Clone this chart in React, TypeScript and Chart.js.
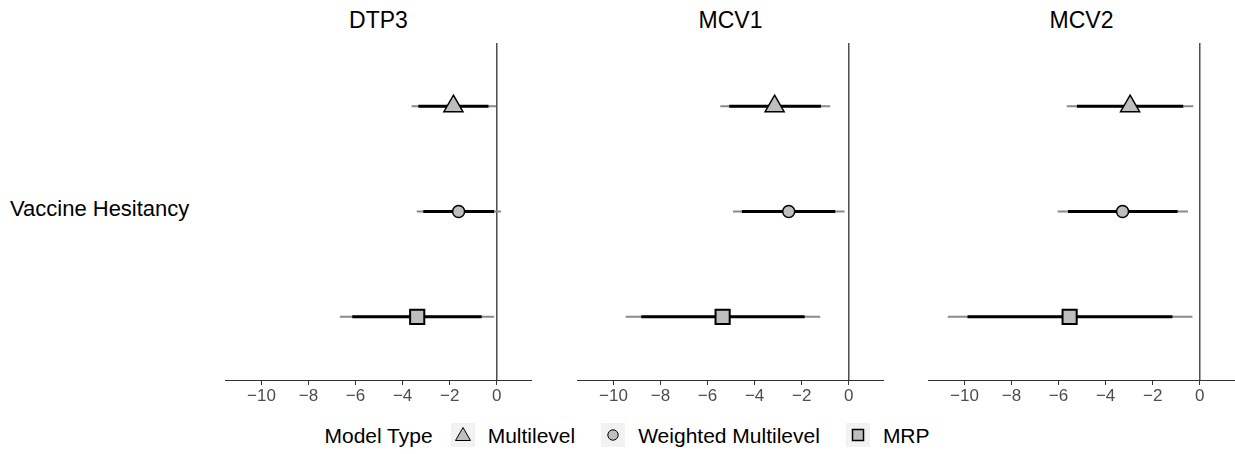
import React, { useEffect, useRef } from 'react';
import { Chart, registerables } from 'chart.js';

Chart.register(...registerables);

// ---------- data ----------
const panelTitles = ['DTP3', 'MCV1', 'MCV2'];
const modelTypes = ['Multilevel', 'Weighted Multilevel', 'MRP'];
const rowPositions = [1, 2, 3];
const xTickValues = [-10, -8, -6, -4, -2, 0];
const yCategory = 'Vaccine Hesitancy';
const legendTitle = 'Model Type';

const dtp3Est = [-1.84, -1.62, -3.38];
const dtp3Lo80 = [-3.33, -3.12, -6.14];
const dtp3Hi80 = [-0.35, -0.11, -0.64];
const dtp3Lo95 = [-3.62, -3.4, -6.67];
const dtp3Hi95 = [-0.03, 0.18, -0.11];

const mcv1Est = [-3.15, -2.55, -5.36];
const mcv1Lo80 = [-5.08, -4.54, -8.82];
const mcv1Hi80 = [-1.18, -0.57, -1.87];
const mcv1Lo95 = [-5.46, -4.92, -9.48];
const mcv1Hi95 = [-0.79, -0.18, -1.21];

const mcv2Est = [-2.96, -3.28, -5.53];
const mcv2Lo80 = [-5.22, -5.6, -9.87];
const mcv2Hi80 = [-0.7, -0.94, -1.16];
const mcv2Lo95 = [-5.65, -6.04, -10.71];
const mcv2Hi95 = [-0.27, -0.5, -0.31];

const xMin = -11.55;
const xMax = 1.5;
const zeroValue = 0;

// ---------- styles ----------
const FONT = '"Liberation Sans", Arial, Helvetica, sans-serif';
const markerStyles = [
  { pointStyle: 'triangle', radius: 11, borderWidth: 1.5 },
  { pointStyle: 'circle', radius: 6, borderWidth: 1.5 },
  { pointStyle: 'rect', radius: 10, borderWidth: 2 },
];
const MARKER_FILL = '#bebebe';
const PANEL_LEFTS = [225, 577, 928];
const PANEL_W = 307;
const PANEL_TOP = 43;
const AREA_H = 337;
const AXIS_H = 40;

const panels = [
  { title: panelTitles[0], est: dtp3Est, lo80: dtp3Lo80, hi80: dtp3Hi80, lo95: dtp3Lo95, hi95: dtp3Hi95 },
  { title: panelTitles[1], est: mcv1Est, lo80: mcv1Lo80, hi80: mcv1Hi80, lo95: mcv1Lo95, hi95: mcv1Hi95 },
  { title: panelTitles[2], est: mcv2Est, lo80: mcv2Lo80, hi80: mcv2Hi80, lo95: mcv2Lo95, hi95: mcv2Hi95 },
];

const fmtTick = (v: number) => (v < 0 ? '\u2212' + Math.abs(v) : String(v));

function Panel({ idx }: { idx: number }) {
  const ref = useRef<HTMLCanvasElement>(null);
  useEffect(() => {
    const p = panels[idx];
    const datasets: any[] = [];
    datasets.push({
      data: [{ x: zeroValue, y: 0.4 }, { x: zeroValue, y: 3.6 }],
      showLine: true, borderColor: '#4d4d4d', borderWidth: 1, pointRadius: 0, order: 4,
    });
    rowPositions.forEach((y, i) => {
      datasets.push({
        data: [{ x: p.lo95[i], y }, { x: p.hi95[i], y }],
        showLine: true, borderColor: '#8a8a8a', borderWidth: 2, pointRadius: 0, order: 3,
        borderCapStyle: 'butt',
      });
      datasets.push({
        data: [{ x: p.lo80[i], y }, { x: p.hi80[i], y }],
        showLine: true, borderColor: '#000000', borderWidth: 3, pointRadius: 0, order: 2,
        borderCapStyle: 'butt',
      });
      const m = markerStyles[i];
      datasets.push({
        label: modelTypes[i],
        data: [{ x: p.est[i], y }],
        showLine: false,
        pointStyle: m.pointStyle,
        pointRadius: m.radius,
        pointBorderWidth: m.borderWidth,
        pointBackgroundColor: MARKER_FILL,
        pointBorderColor: '#000000',
        order: 1,
      });
    });
    const chart = new Chart(ref.current!, {
      type: 'scatter',
      data: { datasets },
      options: {
        animation: false,
        responsive: false,
        devicePixelRatio: 1,
        events: [],
        layout: { padding: 0, autoPadding: false },
        plugins: { legend: { display: false }, tooltip: { enabled: false } },
        scales: {
          x: {
            type: 'linear',
            min: xMin,
            max: xMax,
            position: 'bottom',
            afterBuildTicks: (s: any) => {
              s.ticks = xTickValues.map((v) => ({ value: v }));
            },
            afterFit: (s: any) => {
              s.height = AXIS_H;
            },
            border: { display: true, color: '#333333', width: 1 },
            grid: { display: true, drawOnChartArea: false, drawTicks: true, tickLength: 5, color: '#333333', lineWidth: 1 },
            ticks: {
              color: '#4d4d4d',
              font: { size: 17, family: FONT },
              padding: 1,
              maxRotation: 0,
              autoSkip: false,
              callback: (v: any) => fmtTick(Number(v)),
            },
          },
          y: { type: 'linear', display: false, min: 0.4, max: 3.6, reverse: true },
        },
      } as any,
    });
    return () => chart.destroy();
  }, [idx]);
  return (
    <canvas
      ref={ref}
      width={PANEL_W}
      height={AREA_H + AXIS_H}
      style={{ position: 'absolute', left: PANEL_LEFTS[idx], top: PANEL_TOP, width: PANEL_W, height: AREA_H + AXIS_H }}
    />
  );
}

function LegendKey({ i }: { i: number }) {
  let shape: any = null;
  if (i === 0) shape = <polygon points="4.5,17.5 19.5,17.5 12,4.5" fill={MARKER_FILL} stroke="#000" strokeWidth={1} />;
  if (i === 1) shape = <circle cx={12} cy={12} r={5.2} fill={MARKER_FILL} stroke="#000" strokeWidth={1} />;
  if (i === 2) shape = <rect x={6.5} y={6.5} width={11} height={11} fill={MARKER_FILL} stroke="#000" strokeWidth={1.5} />;
  return (
    <div style={{ width: 24, height: 24, background: '#f2f2f2', flex: 'none' }}>
      <svg width={24} height={24} style={{ display: 'block' }}>{shape}</svg>
    </div>
  );
}

export default function App() {
  return (
    <div style={{ position: 'absolute', left: 0, top: 0, width: 1235, height: 454, overflow: 'hidden', background: '#fff', fontFamily: FONT }}>
      {panels.map((p, i) => (
        <div
          key={'t' + i}
          style={{ position: 'absolute', left: PANEL_LEFTS[i], top: 9, width: PANEL_W, textAlign: 'center', fontSize: 23, lineHeight: '23px', color: '#000' }}
        >
          {p.title}
        </div>
      ))}
      <div style={{ position: 'absolute', left: 10, top: 198, fontSize: 22, lineHeight: '22px', color: '#000', whiteSpace: 'nowrap' }}>
        {yCategory}
      </div>
      {panels.map((_, i) => (
        <Panel key={'p' + i} idx={i} />
      ))}
      <div
        style={{
          position: 'absolute', left: 0, width: 1254, top: 423, height: 24,
          display: 'flex', justifyContent: 'center', alignItems: 'center',
          fontSize: 21, lineHeight: '21px', color: '#000', whiteSpace: 'nowrap',
        }}
      >
        <span style={{ marginRight: 18 }}>{legendTitle}</span>
        {modelTypes.map((m, i) => (
          <React.Fragment key={'l' + i}>
            <LegendKey i={i} />
            <span style={{ marginLeft: 13, marginRight: i < modelTypes.length - 1 ? 26 : 0 }}>{m}</span>
          </React.Fragment>
        ))}
      </div>
    </div>
  );
}
